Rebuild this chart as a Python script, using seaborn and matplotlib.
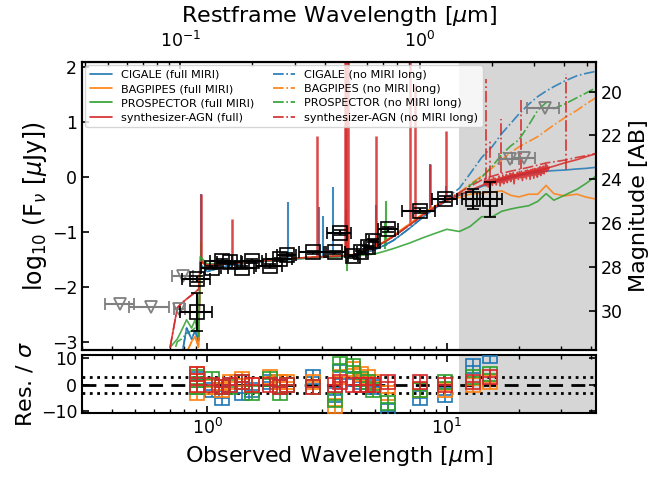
import numpy as np
import pandas as pd
import matplotlib
matplotlib.use("Agg")
import matplotlib.pyplot as plt
from matplotlib.lines import Line2D
from matplotlib.ticker import LogFormatterSciNotation
import seaborn as sns

sns.set_style("ticks")
plt.rcParams['font.family'] = ['DejaVu Sans']
plt.rcParams['mathtext.fontset'] = 'dejavusans'
plt.rcParams['xtick.direction'] = 'in'
plt.rcParams['ytick.direction'] = 'in'
for key in ['text.color', 'axes.labelcolor', 'xtick.color', 'ytick.color', 'axes.edgecolor']:
    plt.rcParams[key] = 'black'

Z1 = 7.72  # 1 + z

# ---------------- model SEDs (observed wavelength in micron, log10 F_nu [uJy]) ----
wave_grid = [0.70, 0.75, 0.78, 0.82, 0.86, 0.89, 0.92, 0.935, 0.95, 1.0, 1.2, 1.5,
             2.0, 2.5, 3.0, 3.5, 4.0, 4.5, 5.0, 5.5, 6.0, 7.0, 8.0, 9.0, 10.0, 11.3,
             12.5, 14.0, 15.5, 17.0, 18.5, 20.0, 22.0, 24.0, 26.0, 28.0, 31.0, 35.0,
             38.0, 42.0]

cigale_full = [-3.6, -3.6, -3.3, -2.75, -2.95, -2.8, -3.0, -1.7, -1.62, -1.72, -1.62, -1.56,
               -1.51, -1.48, -1.46, -1.45, -1.43, -1.39, -1.32, -1.24, -1.15, -0.93, -0.72,
               -0.56, -0.43, -0.33, -0.26, -0.17, -0.10, -0.05, -0.01, 0.03, 0.06, 0.09,
               0.11, 0.12, 0.13, 0.15, 0.16, 0.18]
bagpipes_full = [-3.6, -3.6, -3.6, -3.2, -3.0, -2.9, -3.1, -1.6, -1.56, -1.62, -1.58, -1.55,
                 -1.50, -1.47, -1.45, -1.44, -1.42, -1.37, -1.27, -1.17, -1.06, -0.85, -0.66,
                 -0.52, -0.42, -0.37, -0.31, -0.29, -0.27, -0.25, -0.33, -0.36, -0.31, -0.31,
                 -0.15, -0.30, -0.34, -0.31, -0.36, -0.40]
prospector_full = [-3.1, -2.95, -2.8, -2.6, -2.75, -2.6, -2.9, -1.45, -1.48, -1.58, -1.57, -1.55,
                   -1.51, -1.48, -1.46, -1.45, -1.44, -1.42, -1.40, -1.35, -1.30, -1.20, -1.10,
                   -1.02, -0.95, -0.99, -0.90, -0.72, -0.72, -0.62, -0.58, -0.55, -0.52, -0.44,
                   -0.30, -0.42, -0.33, -0.22, -0.12, 0.02]
synth_full = [-3.1, -2.38, -2.3, -2.22, -2.15, -2.1, -2.04, -1.55, -1.55, -1.6, -1.58, -1.55,
              -1.50, -1.47, -1.45, -1.44, -1.42, -1.37, -1.28, -1.18, -1.08, -0.87, -0.68,
              -0.54, -0.42, -0.32, -0.24, -0.15, -0.08, -0.03, 0.02, 0.05, 0.09, 0.12,
              0.16, 0.20, 0.26, 0.32, 0.37, 0.43]

cigale_nomiri = [-3.6, -3.6, -3.3, -2.75, -2.95, -2.8, -3.0, -1.7, -1.62, -1.72, -1.62, -1.56,
                 -1.51, -1.48, -1.46, -1.45, -1.43, -1.39, -1.32, -1.24, -1.15, -0.93, -0.72,
                 -0.54, -0.38, -0.20, 0.06, 0.36, 0.56, 0.80, 0.98, 1.15, 1.33, 1.47, 1.57,
                 1.65, 1.75, 1.85, 1.89, 1.93]
bagpipes_nomiri = [-3.6, -3.6, -3.6, -3.2, -3.0, -2.9, -3.1, -1.6, -1.56, -1.62, -1.58, -1.55,
                   -1.50, -1.47, -1.45, -1.44, -1.42, -1.37, -1.27, -1.17, -1.06, -0.85, -0.66,
                   -0.52, -0.42, -0.28, -0.13, 0.02, 0.17, 0.32, 0.45, 0.55, 0.65, 0.74, 0.85,
                   0.95, 1.08, 1.22, 1.33, 1.45]
prospector_nomiri = [-3.4, -3.0, -2.95, -2.85, -2.8, -2.75, -2.95, -1.55, -1.52, -1.6, -1.58, -1.55,
                     -1.50, -1.47, -1.45, -1.44, -1.42, -1.37, -1.28, -1.18, -1.08, -0.87, -0.68,
                     -0.54, -0.42, -0.30, -0.15, 0.00, 0.20, 0.42, 0.57, 0.68, 0.95, 1.22, 1.36,
                     1.25, 1.33, 1.45, 1.53, 1.63]
synth_nomiri = [-3.1, -2.38, -2.3, -2.22, -2.15, -2.1, -2.04, -1.55, -1.55, -1.6, -1.58, -1.55,
                -1.50, -1.47, -1.45, -1.44, -1.42, -1.37, -1.28, -1.18, -1.08, -0.87, -0.68,
                -0.54, -0.40, -0.28, -0.17, -0.05, 0.02, 0.07, 0.11, 0.14, 0.18, 0.22, 0.26,
                0.28, 0.31, 0.36, 0.39, 0.43]

# noisy AGN torus region of synthesizer-AGN (full)
synth_noise_wave = [14.3, 14.45, 14.6, 14.75, 14.9, 15.05, 15.2, 15.35, 15.5, 15.65, 15.8,
                    15.95, 16.1, 16.25, 16.4, 16.55, 16.7, 16.85, 17.0, 17.15, 17.3, 17.45,
                    17.6, 17.75, 17.9, 18.05, 18.2, 18.35, 18.5, 18.65, 18.8, 18.95, 19.1,
                    19.3, 19.5, 19.7, 19.9, 20.1, 20.3, 20.5, 20.7, 20.9, 21.1, 21.3, 21.5,
                    21.7, 21.9, 22.1, 22.3, 22.5, 22.7, 22.9, 23.1, 23.3, 23.5, 23.7, 23.9,
                    24.1, 24.3, 24.5, 24.7, 24.9, 25.1, 25.3, 25.5, 25.7, 25.9, 26.1, 26.3,
                    26.5, 26.8]
synth_noise_flux = [-0.12, -0.03, -0.16, -0.05, -0.18, -0.02, -0.13, -0.04, -0.15, 0.00,
                    -0.11, -0.02, -0.14, -0.03, -0.09, 0.02, -0.16, -0.01, -0.10, 0.04,
                    -0.12, 0.01, -0.07, 0.05, -0.10, 0.03, -0.05, 0.07, -0.08, 0.06,
                    -0.03, 0.08, -0.12, 0.05, -0.02, 0.09, -0.04, 0.10, -0.01, 0.11,
                    -0.06, 0.09, 0.00, 0.12, -0.03, 0.13, 0.02, 0.12, -0.04, 0.14, 0.03,
                    0.15, -0.02, 0.16, 0.04, 0.15, 0.00, 0.17, 0.05, 0.19, 0.03, 0.18,
                    0.07, 0.20, 0.06, 0.17, 0.24, 0.10, 0.21, 0.13, 0.18]

# emission lines: wavelength, continuum base, peak
synth_line_wave = [0.939, 1.27, 2.88, 3.75, 3.80, 3.87, 5.07, 7.0, 7.36, 8.5, 9.96]
synth_line_base = [-1.55, -1.58, -1.45, -1.43, -1.43, -1.42, -1.27, -0.87, -0.80, -0.62, -0.43]
synth_line_peak = [-0.30, -0.77, 0.75, 2.5, 2.5, 2.5, 0.75, 2.5, 1.70, 0.24, 0.85]
synth_nomiri_line_wave = [14.6, 15.1, 16.9, 20.5, 31.4]
synth_nomiri_line_base = [-0.03, 0.0, 0.07, 0.15, 0.13]
synth_nomiri_line_peak = [1.79, 0.69, 1.06, 1.42, 1.88]
cigale_line_wave = [0.939, 2.17, 2.92, 3.05, 3.36, 3.80, 5.07, 8.5, 9.96]
cigale_line_base = [-1.60, -1.50, -1.45, -1.45, -1.44, -1.43, -1.30, -0.62, -0.43]
cigale_line_peak = [-0.31, -0.46, -0.55, -0.70, -0.18, -0.60, -0.50, 0.24, -0.16]
prosp_line_wave = [0.939, 3.80, 3.82, 5.5, 5.6]
prosp_line_base = [-1.50, -1.43, -1.43, -1.30, -1.25]
prosp_line_peak = [-1.19, -1.13, -1.71, -0.83, -0.43]
bagp_line_wave = [3.87, 5.07]
bagp_line_base = [-1.42, -1.27]
bagp_line_peak = [-0.90, -0.80]

# ---------------- photometry ----------------
det_wave = [0.905, 0.91, 1.046, 1.15, 1.25, 1.395, 1.535, 1.83, 2.01, 2.15, 2.77, 3.41,
            3.58, 4.07, 4.4, 4.7, 4.94, 5.69, 7.72, 9.84, 12.9, 15.2]
det_flux = [-1.86, -2.46, -1.65, -1.53, -1.55, -1.65, -1.53, -1.62, -1.50, -1.41, -1.37, -1.37,
            -1.01, -1.44, -1.37, -1.28, -1.16, -0.95, -0.61, -0.40, -0.40, -0.40]
det_ferr = [0.05, 0.35, 0.03, 0.03, 0.03, 0.03, 0.03, 0.03, 0.03, 0.03, 0.03, 0.03,
            0.04, 0.03, 0.03, 0.03, 0.03, 0.04, 0.05, 0.06, 0.18, 0.32]
det_werr = [0.12, 0.14, 0.10, 0.12, 0.15, 0.17, 0.15, 0.23, 0.25, 0.20, 0.35, 0.35,
            0.42, 0.20, 0.20, 0.20, 0.20, 0.55, 1.20, 1.20, 1.30, 1.85]

ul_wave = [0.434, 0.583, 0.765, 0.79, 18.3, 21.1, 25.6]
ul_flux = [-2.32, -2.37, -2.40, -1.80, 0.33, 0.35, 1.27]
ul_werr = [0.06, 0.11, 0.04, 0.08, 1.8, 2.3, 3.9]

# residuals (sigma) per model at each detection
res_cigale = [2, -1, -2, -5, 0, -3, -2, 1, -1, 0, 3, -4, 5, 2, 1, 0, -1, -10, -5, -4, 7, 11]
res_bagpipes = [4, -3, -1, -2, 1, 2, 0, 3, 1, 1, 1, -8, 3, 6, 4, 3, 1, -3, -2, -2, 0, 1]
res_prospector = [3, -1, 2, -1, -1, 1, -3, 2, -3, 0, -1, -6, 8, 7, 2, 1, -2, -7, -2, 1, 3, 4]
res_synth = [4, 0, 0, -1, 0, 1, 0, 0, -1, 0, -1, 0, 1, 0, 0, 0, 0, 1, 1, 0, 1, 3]

labels_full = ["CIGALE (full MIRI)", "BAGPIPES (full MIRI)", "PROSPECTOR (full MIRI)",
               "synthesizer-AGN (full)"]
labels_nomiri = ["CIGALE (no MIRI long)", "BAGPIPES (no MIRI long)",
                 "PROSPECTOR (no MIRI long)", "synthesizer-AGN (no MIRI long)"]

colors = ["#1f77b4", "#ff7f0e", "#2ca02c", "#d62728"]
GRAY_SPAN = (11.2, 60.0)
LABEL_FS = 16
TICK_FS = 12.5

# ---------------- figure ----------------
fig = plt.figure(figsize=(6.53, 4.79), dpi=100)
ax = fig.add_axes([0.1256, 0.2693, 0.7871, 0.6013])
axr = fig.add_axes([0.1256, 0.1378, 0.7871, 0.1211], sharex=ax)

for a in (ax, axr):
    a.axvspan(*GRAY_SPAN, color="#d6d6d6", lw=0, zorder=0)

full_sets = [cigale_full, bagpipes_full, prospector_full, synth_full]
nomiri_sets = [cigale_nomiri, bagpipes_nomiri, prospector_nomiri, synth_nomiri]

for flux, c in zip(nomiri_sets, colors):
    sns.lineplot(x=wave_grid, y=flux, ax=ax, color=c, lw=1.2, alpha=0.85,
                 linestyle="-.", estimator=None, sort=False, legend=False, zorder=2)
for flux, c in zip(full_sets, colors):
    sns.lineplot(x=wave_grid, y=flux, ax=ax, color=c, lw=1.2, alpha=0.85,
                 estimator=None, sort=False, legend=False, zorder=3)
sns.lineplot(x=synth_noise_wave, y=synth_noise_flux, ax=ax, color=colors[3], lw=1.2,
             alpha=0.85, estimator=None, sort=False, legend=False, zorder=3)

ax.vlines(cigale_line_wave, cigale_line_base, cigale_line_peak, color=colors[0], lw=1.5, alpha=0.85, zorder=2)
ax.vlines(bagp_line_wave, bagp_line_base, bagp_line_peak, color=colors[1], lw=1.5, alpha=0.85, zorder=2)
ax.vlines(prosp_line_wave, prosp_line_base, prosp_line_peak, color=colors[2], lw=1.5, alpha=0.85, zorder=2)
ax.vlines(synth_line_wave, synth_line_base, synth_line_peak, color=colors[3], lw=1.8, alpha=0.85, zorder=2)
ax.vlines(synth_nomiri_line_wave, synth_nomiri_line_base, synth_nomiri_line_peak,
          color=colors[3], lw=1.3, alpha=0.85, linestyles="-.", zorder=2)

ax.errorbar(ul_wave, ul_flux, xerr=ul_werr, fmt="v", mfc="none", mec="gray", ecolor="gray",
            ms=9, mew=1.3, capsize=4, elinewidth=1.5, zorder=5)
ax.errorbar(det_wave, det_flux, xerr=det_werr, yerr=det_ferr, fmt="s", mfc="none", mec="k",
            ecolor="k", ms=10, mew=1.2, capsize=4, elinewidth=1.5, zorder=6)

ax.set_xscale("log")
ax.set_xlim(0.3, 42)
ax.set_ylim(-3.15, 2.1)
ax.set_yticks([-3, -2, -1, 0, 1, 2])
ax.set_ylabel(r"log$_{10}$ (F$_\nu$ [$\mu$Jy])", fontsize=LABEL_FS + 1, labelpad=2)
ax.tick_params(axis="x", which="both", labelbottom=False, bottom=True, top=False)
ax.tick_params(axis="y", which="both", left=True, right=False, labelsize=TICK_FS)
ax.tick_params(which="major", length=5, width=1.2)
ax.tick_params(which="minor", length=3, width=1.0)

handles = [Line2D([], [], color=c, lw=1.2) for c in colors] + \
          [Line2D([], [], color=c, lw=1.2, ls="-.") for c in colors]
ax.legend(handles, labels_full + labels_nomiri, ncol=2, loc="upper left", fontsize=8.1,
          framealpha=0.8, borderaxespad=0.3, labelspacing=0.38, columnspacing=1.6)

secax = ax.secondary_xaxis("top", functions=(lambda x: x / Z1, lambda x: x * Z1))
secax.set_xticks([0.1, 1.0])
secax.xaxis.set_major_formatter(LogFormatterSciNotation())
secax.set_xlabel(r"Restframe Wavelength [$\mu$m]", fontsize=LABEL_FS, labelpad=6)
secax.tick_params(which="both", direction="in", labelsize=TICK_FS, pad=8)
secax.tick_params(which="major", length=5, width=1.2)
secax.tick_params(which="minor", length=3, width=1.0)

axm = ax.twinx()
axm.set_ylim(23.9 - 2.5 * (-3.15), 23.9 - 2.5 * 2.1)
axm.set_yticks([20, 22, 24, 26, 28, 30])
axm.set_ylabel("Magnitude [AB]", fontsize=LABEL_FS)
axm.tick_params(axis="y", direction="in", labelsize=TICK_FS, length=5, width=1.2)

# residual panel
axr.axhline(0, color="k", ls="--", lw=2, dashes=(5, 3), zorder=1)
axr.axhline(3, color="k", ls=":", lw=2, zorder=1)
axr.axhline(-3, color="k", ls=":", lw=2, zorder=1)
for res, c in zip([res_cigale, res_bagpipes, res_prospector, res_synth], colors):
    axr.plot(det_wave, res, "s", mfc="none", mec=c, ms=10, mew=1.2, zorder=3)
    axr.plot(det_wave, res, "+", color=c, ms=10, mew=1.2, zorder=3)
axr.set_ylim(-10.8, 11.3)
axr.set_yticks([-10, 0, 10])
axr.set_xlim(0.3, 42)
axr.set_xlabel(r"Observed Wavelength [$\mu$m]", fontsize=LABEL_FS)
axr.set_ylabel(r"Res. / $\sigma$", fontsize=LABEL_FS)
axr.tick_params(which="both", top=True, right=True, labelsize=TICK_FS)
axr.tick_params(which="major", length=5, width=1.2)
axr.tick_params(which="minor", length=3, width=1.0)

for a in (ax, axr, axm):
    for s in a.spines.values():
        s.set_linewidth(1.5)
        s.set_color("k")

fig.savefig("out.png", dpi=100)
